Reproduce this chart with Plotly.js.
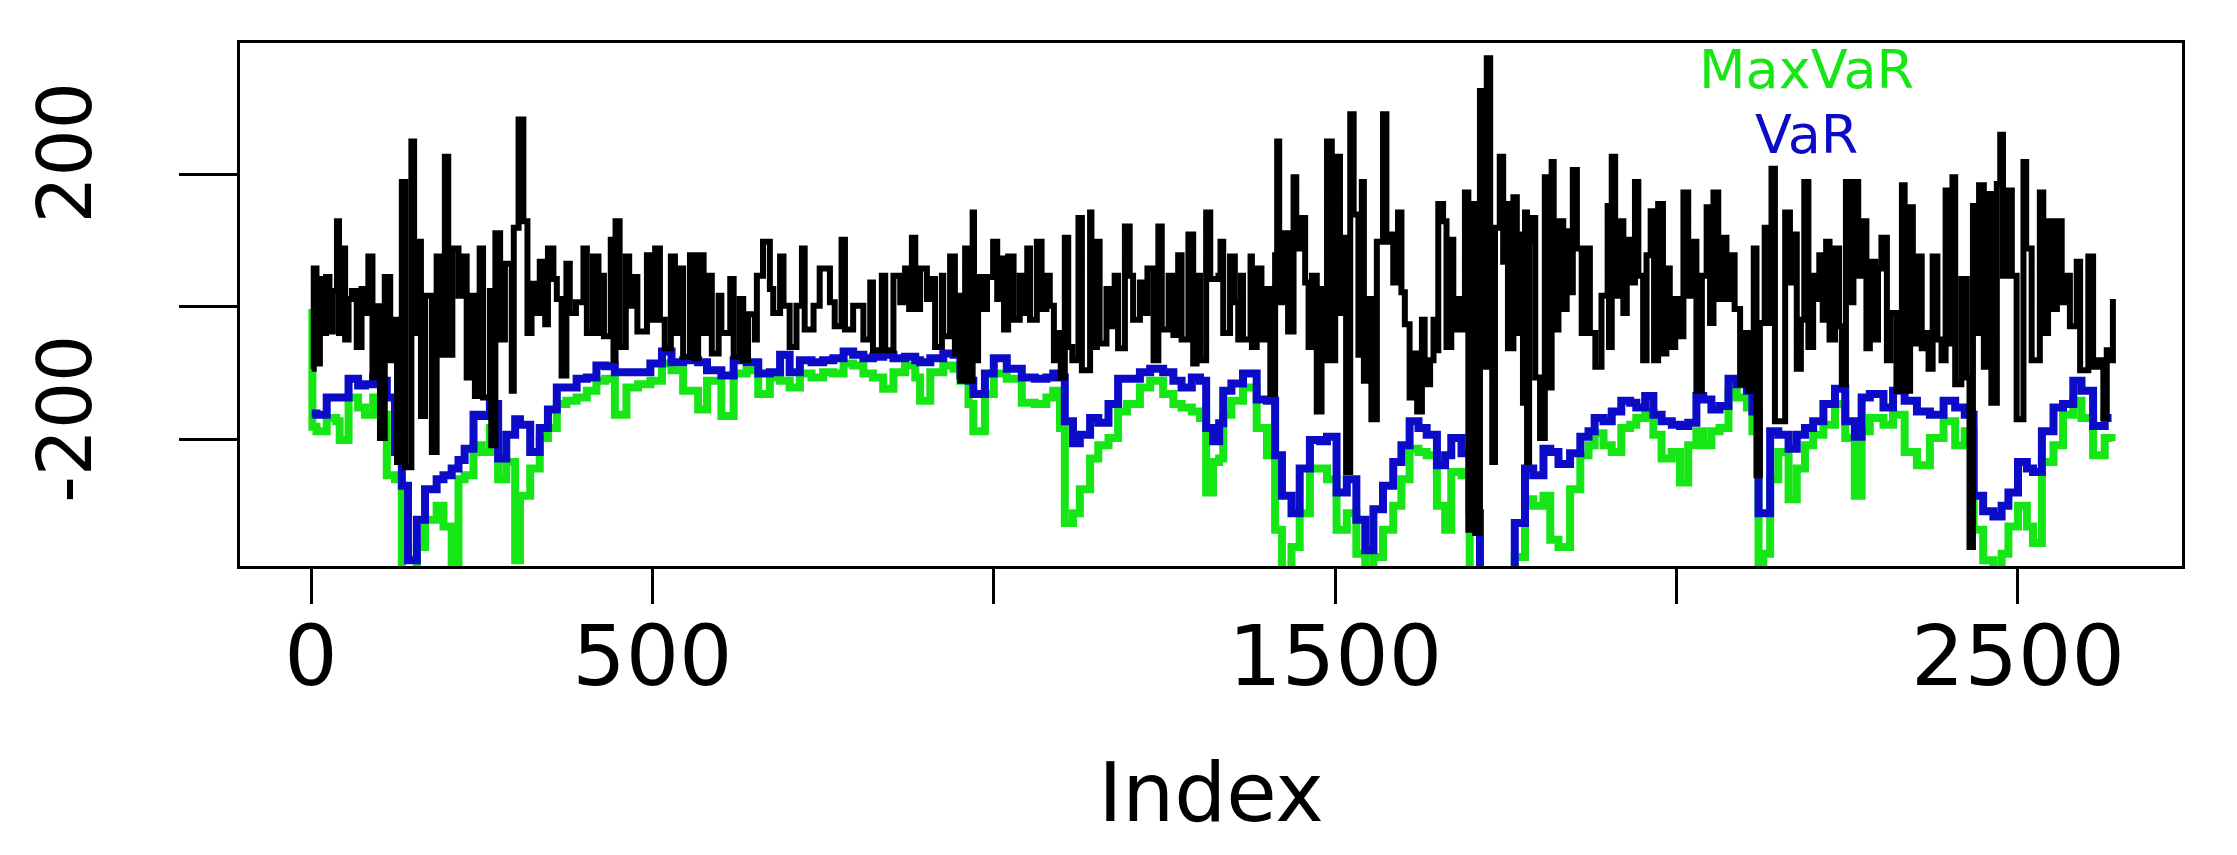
<!DOCTYPE html>
<html>
<head>
<meta charset="utf-8">
<script src="https://cdn.plot.ly/plotly-3.0.1.min.js"></script>
<style>html,body{margin:0;padding:0;background:#fff;}#chart{width:2237px;height:855px;}</style>
</head>
<body>
<div id="chart"></div>
<script>
// Returns series (black)
const retIdx = [1,4,8,13,18,22,27,32,38,41,43,50,55,60,67,74,82,84,90,95,101,108,116,122,126,133,138,147,151,157,161,167,177,184,190,196,201,207,216,223,228,235,240,247,252,262,264,270,277,284,294,297,304,311,317,323,330,335,343,347,355,360,367,374,379,388,399,404,413,421,
424,429,439,443,446,452,461,466,472,478,492,497,504,511,518,527,533,538,545,555,562,567,575,580,587,597,601,614,619,628,633,640,650,653,662,672,677,687,692,701,711,719,723,736,745,760,767,777,782,794,809,819,823,836,841,853,863,870,876,
880,885,892,902,907,914,924,926,936,943,946,951,958,964,969,971,977,982,990,999,1005,1012,1015,1021,1029,1038,1043,1049,1053,1063,1070,1077,1082,1088,1094,1098,1104,1109,1115,1124,1129,1141,1143,1151,1155,1165,1173,1177,1182,1192,1199,1204,1214,1221,1225,1234,1241,1246,1256,1263,1270,1275,1285,1292,1297,1302,1311,1317,1329,
1332,1336,1346,1353,1358,1362,1365,1376,1378,1385,1392,1400,1405,1412,1415,1418,1424,1431,1439,1443,1448,1456,1461,1466,1473,1480,1484,1488,1495,1500,1507,1511,1516,1522,1527,1534,1539,1542,1546,1553,1561,1570,1575,1580,1585,1592,1597,1602,1609,1617,1620,1627,1631,1639,1644,1648,1651,1658,1663,1670,1673,1680,1685,1690,1695,1700,1705,1712,1717,1722,1727,1730,1734,1741,1746,1751,1753,1761,1766,1771,1775,1778,1781,1784,
1788,1793,1800,1807,1812,1817,1820,1827,1834,1839,1843,1848,1854,1861,1866,1873,1881,1890,1899,1901,1905,1910,1915,1922,1927,1932,1939,1944,1951,1956,1962,1967,1973,1980,1985,1990,1998,2002,2010,2017,2022,2029,2037,2044,2049,2054,2061,2066,2073,2078,2085,2093,2100,2105,2113,2117,2122,2129,2134,2139,2144,2159,2166,2173,2176,2182,2187,2193,2200,2204,2209,2214,2219,2224,2232,2238,
2242,2248,2252,2259,2266,2271,2278,2283,2291,2295,2300,2308,2313,2322,2330,2334,2342,2346,2352,2359,2364,2369,2375,2382,2388,2394,2399,2404,2408,2417,2425,2429,2434,2439,2443,2450,2457,2461,2469,2474,2478,2483,2491,2498,2508,2512,2520,2532,2537,2544,2552,2557,2564,2569,2576,2586,2591,2603,2610,2617,2625,2630,2636,2639];
const retVal = [-93,58,-85,42,-39,45,-37,24,129,-39,88,-49,12,24,-60,27,-9,76,-106,1,-197,45,-80,-19,-233,188,-241,249,-39,98,-164,17,-218,76,-72,226,-72,88,17,76,-106,17,-134,88,-136,24,-208,111,-49,65,-126,119,282,129,-39,35,-9,68,-26,88,42,12,-103,65,-9,7,88,-39,76,-39,
47,-44,101,-80,129,-60,76,2,45,-37,78,-19,88,-19,-62,76,-39,58,-75,78,-77,78,-39,47,-70,17,-39,42,-75,12,-80,-11,-49,47,98,27,-9,76,2,-60,2,88,-34,2,58,7,-29,101,-34,2,-49,37,-65,47,-65,47,7,58,-3,
104,-3,58,12,42,-60,47,-44,76,-70,17,-111,88,-111,142,-80,45,-3,45,98,12,73,-34,76,-19,47,-9,88,-19,98,-3,47,2,-80,-39,-106,104,-60,-80,134,-95,142,-60,98,-55,27,-29,47,-62,121,47,-19,37,-9,58,-80,121,-34,47,-42,78,-49,109,-85,47,-80,142,42,47,
98,-39,76,7,-49,47,-49,76,-60,58,-49,27,-131,78,249,7,111,-37,195,88,134,37,-60,47,-157,27,-80,249,-80,226,-9,104,-248,290,139,-72,188,-111,12,-169,98,290,98,109,37,142,22,-26,-136,-70,-157,-19,-116,-80,-19,-65,155,129,-60,101,-34,12,-34,172,-335,155,-340,325,-90,374,-9,-233,119,226,68,155,-62,165,-39,109,-144,142,-233,98,
134,-106,-197,195,-121,218,-34,129,-3,114,22,206,88,-39,88,-39,-90,17,152,-60,226,17,129,-9,101,37,188,47,-80,78,144,-80,155,-70,58,-60,12,-44,172,17,98,-126,47,150,-24,172,12,104,12,78,-3,-116,-39,-126,88,-253,-24,119,-24,208,-172,142,37,109,-93,-19,188,-60,47,12,78,-19,98,-49,88,-29,
-116,188,7,188,47,129,-62,68,-49,58,104,-80,-9,-126,183,-126,150,-55,76,-62,-39,-93,76,-49,-80,175,-55,195,-116,42,-106,-361,152,-39,183,-90,170,-144,185,259,47,175,47,-169,218,88,-80,172,-39,129,-3,129,7,47,-29,68,-95,76,-90,-80,-167,-65,-80,12];

// VaR (blue) and MaxVaR (green), sampled at shared indices
const varIdx = [1,2,8,23,37,42,55,69,79,91,103,111,123,133,142,155,167,184,194,206,216,225,238,250,262,274,286,299,306,321,335,347,360,374,389,404,418,
431,445,462,479,497,514,528,545,567,580,601,619,638,655,672,687,701,716,733,750,765,780,794,809,823,838,853,870,
885,892,907,926,941,951,963,970,987,1000,1019,1041,1060,1077,1087,1097,1104,1116,1126,1141,1153,1168,1182,1195,1214,1229,1248,1263,1275,1290,1302,1311,1321,1330,
1336,1348,1365,1385,1400,1412,1422,1436,1448,1463,1478,1488,1502,1517,1531,1544,1556,1570,1585,1597,1609,1622,1634,1649,1661,1670,1685,1697,1712,1731,1751,1763,1778,
1790,1805,1815,1827,1844,1859,1871,1880,1893,1905,1919,1932,1941,1954,1966,1978,1993,2005,2017,2029,2039,2051,2063,2076,2088,2103,2111,2120,2127,2137,2149,2164,2176,2188,2200,2215,2232,
2247,2261,2271,2283,2303,2317,2334,2352,2371,2391,2408,2422,2435,2449,2464,2476,2486,2500,2513,2522,2535,2552,2566,2581,2593,2610,2627,2637];
const varVal = [-160,-160,-162,-136,-136,-136,-108,-118,-116,-106,-111,-136,-218,-269,-381,-320,-274,-259,-253,-243,-230,-213,-162,-164,-146,-228,-192,-169,-177,-218,-182,-154,-121,-121,-108,-106,-88,
-89,-98,-98,-98,-85,-67,-83,-80,-83,-95,-103,-80,-83,-100,-98,-72,-98,-80,-83,-80,-77,-67,-72,-77,-75,-72,-77,-75,
-80,-83,-77,-70,-72,-103,-111,-131,-100,-77,-93,-106,-108,-106,-100,-106,-172,-205,-192,-167,-174,-146,-108,-108,-98,-93,-98,-111,-121,-106,-111,-182,-202,-175,
-126,-115,-100,-139,-141,-223,-284,-310,-243,-200,-202,-195,-279,-259,-320,-366,-304,-269,-233,-208,-172,-182,-192,-238,-223,-197,-220,-310,-420,-430,-410,-325,-243,
-253,-213,-218,-236,-220,-195,-187,-167,-172,-157,-141,-144,-151,-134,-162,-172,-177,-179,-174,-134,-139,-154,-149,-108,-116,-126,-157,-310,-310,-187,-192,-213,-192,-182,-172,-146,-123,
-172,-195,-136,-131,-151,-126,-141,-157,-162,-141,-151,-162,-284,-307,-315,-299,-279,-233,-243,-248,-187,-151,-146,-111,-126,-179,-167,-167];
const maxVarVal = [-3,-180,-187,-167,-172,-200,-136,-151,-162,-136,-162,-253,-259,-400,-400,-361,-320,-299,-330,-400,-259,-253,-208,-218,-182,-259,-233,-381,-284,-243,-197,-182,-146,-141,-136,-126,-111,
-108,-162,-121,-116,-111,-85,-95,-126,-154,-111,-164,-100,-95,-131,-106,-111,-121,-100,-106,-98,-100,-85,-88,-100,-106,-123,-98,-88,
-106,-141,-98,-88,-93,-111,-146,-187,-131,-100,-108,-144,-146,-136,-126,-182,-325,-310,-274,-228,-208,-197,-157,-146,-121,-111,-131,-146,-151,-157,-167,-279,-233,-228,
-162,-141,-121,-182,-223,-335,-400,-361,-310,-243,-243,-259,-335,-310,-371,-400,-376,-335,-299,-259,-213,-218,-223,-299,-335,-248,-253,-400,-450,-460,-440,-376,-289,
-299,-284,-350,-361,-274,-223,-208,-190,-208,-218,-182,-177,-167,-157,-192,-228,-218,-264,-208,-187,-208,-187,-182,-128,-136,-151,-187,-400,-371,-259,-218,-289,-243,-208,-192,-177,-146,
-197,-284,-187,-167,-177,-162,-218,-238,-197,-172,-208,-187,-335,-381,-400,-371,-330,-299,-330,-355,-233,-208,-162,-141,-167,-223,-197,-202];

const xTickVals = [0, 500, 1000, 1500, 2000, 2500];
const xTickText = ['0', '500', '', '1500', '', '2500'];
const yTickVals = [-200, 0, 200];
const yTickText = ['-200', '', '200'];
const legendLabels = ['MaxVaR', 'VaR'];

const GREEN = '#16e616';
const BLUE = '#0c0cc8';
const FONT = 'DejaVu Sans';

const traces = [
  {x: varIdx, y: maxVarVal, type: 'scatter', mode: 'lines', line: {color: GREEN, width: 8, shape: 'hv'}, name: 'MaxVaR', hoverinfo: 'skip'},
  {x: varIdx, y: varVal, type: 'scatter', mode: 'lines', line: {color: BLUE, width: 8, shape: 'hv'}, name: 'VaR', hoverinfo: 'skip'},
  {x: retIdx, y: retVal, type: 'scatter', mode: 'lines', line: {color: '#000000', width: 6, shape: 'hv'}, name: 'returns', hoverinfo: 'skip'}
];

const layout = {
  width: 2237, height: 855,
  margin: {l: 240, r: 55, t: 43, b: 289, pad: 0},
  paper_bgcolor: '#ffffff', plot_bgcolor: '#ffffff',
  showlegend: false,
  xaxis: {
    range: [-104, 2740.2], autorange: false, automargin: false,
    tickmode: 'array', tickvals: xTickVals, ticktext: xTickText,
    ticks: 'outside', ticklen: 35, tickwidth: 3, tickcolor: '#000',
    showline: true, linewidth: 3, linecolor: '#000', mirror: true,
    showgrid: false, zeroline: false,
    tickfont: {family: FONT, size: 84, color: '#000'},
    ticklabelstandoff: -20,
    title: {text: 'Index', font: {family: FONT, size: 82, color: '#000'}, standoff: 60}
  },
  yaxis: {
    range: [-389.5, 397], autorange: false, automargin: false,
    tickmode: 'array', tickvals: yTickVals, ticktext: yTickText,
    ticks: 'outside', ticklen: 58, tickwidth: 3, tickcolor: '#000',
    tickangle: -90, ticklabelshift: -10, ticklabelstandoff: 58,
    showline: true, linewidth: 3, linecolor: '#000', mirror: true,
    showgrid: false, zeroline: false,
    tickfont: {family: FONT, size: 74, color: '#000'}
  },
  annotations: [
    {text: legendLabels[0], xref: 'paper', yref: 'paper', x: 0.8064, y: 0.950, xanchor: 'center', yanchor: 'middle', showarrow: false, font: {family: FONT, size: 54, color: GREEN}},
    {text: legendLabels[1], xref: 'paper', yref: 'paper', x: 0.8064, y: 0.826, xanchor: 'center', yanchor: 'middle', showarrow: false, font: {family: FONT, size: 54, color: BLUE}}
  ]
};

Plotly.newPlot('chart', traces, layout, {staticPlot: true, displayModeBar: false});
</script>
</body>
</html>
